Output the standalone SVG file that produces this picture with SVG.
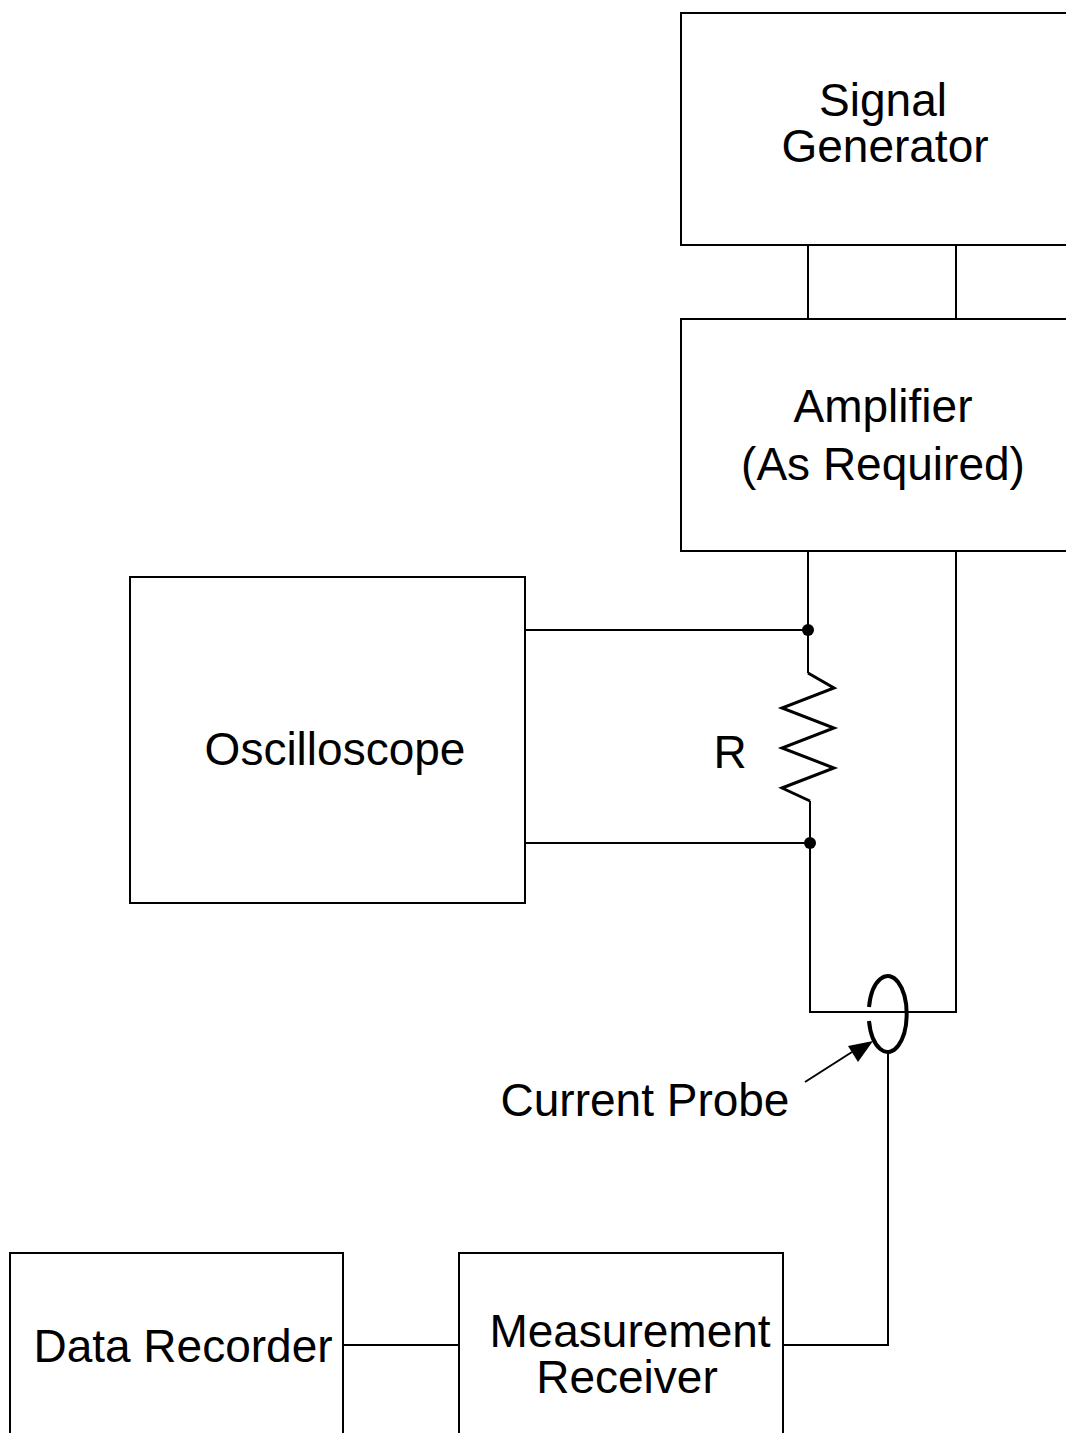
<svg xmlns="http://www.w3.org/2000/svg" width="1066" height="1433" viewBox="0 0 1066 1433">
<defs>
<style>
.box{fill:#fff;stroke:#000;stroke-width:2}
.w{fill:none;stroke:#000;stroke-width:2}
.t{font-family:"Liberation Sans",Arial,sans-serif;font-size:46px;fill:#000;text-anchor:middle}
</style>
</defs>
<rect width="1066" height="1433" fill="#fff"/>
<g id="connectors">
<path class="w" d="M808,245 V319 M956,245 V319"/>
<path class="w" d="M808,551 V673 M810,801 V1012 H956 V551"/>
<path d="M808,673 L834,688 L782,708 L834,728 L782,748 L834,768 L782,788 L810,801" fill="none" stroke="#000" stroke-width="3"/>
<path class="w" d="M525,630 H808 M525,843 H810"/>
<circle cx="808" cy="630" r="6" fill="#000"/>
<circle cx="810" cy="843" r="6" fill="#000"/>
<path class="w" d="M888,1052 V1345 H783 M343,1345 H459"/>
<path d="M869,1007 A19,38 0 1 1 869,1021" fill="none" stroke="#000" stroke-width="4"/>
<line x1="805" y1="1082" x2="852" y2="1052" stroke="#000" stroke-width="2"/>
<path d="M873,1041 L848,1046 L858,1062 z" fill="#000"/>
</g>
<g id="signal-generator">
<rect class="box" x="681" y="13" width="400" height="232"/>
<text class="t" x="883" y="116">Signal</text>
<text class="t" x="885" y="162">Generator</text>
</g>
<g id="amplifier">
<rect class="box" x="681" y="319" width="400" height="232"/>
<text class="t" x="883" y="422">Amplifier</text>
<text class="t" x="883" y="480">(As Required)</text>
</g>
<g id="oscilloscope">
<rect class="box" x="130" y="577" width="395" height="326"/>
<text class="t" x="335" y="765">Oscilloscope</text>
</g>
<g id="resistor-label">
<text class="t" x="730" y="768">R</text>
</g>
<g id="current-probe-label">
<text class="t" x="645" y="1116">Current Probe</text>
</g>
<g id="data-recorder">
<rect class="box" x="10" y="1253" width="333" height="200"/>
<text class="t" x="183" y="1362">Data Recorder</text>
</g>
<g id="measurement-receiver">
<rect class="box" x="459" y="1253" width="324" height="200"/>
<text class="t" x="630" y="1347">Measurement</text>
<text class="t" x="627" y="1393">Receiver</text>
</g>
</svg>
